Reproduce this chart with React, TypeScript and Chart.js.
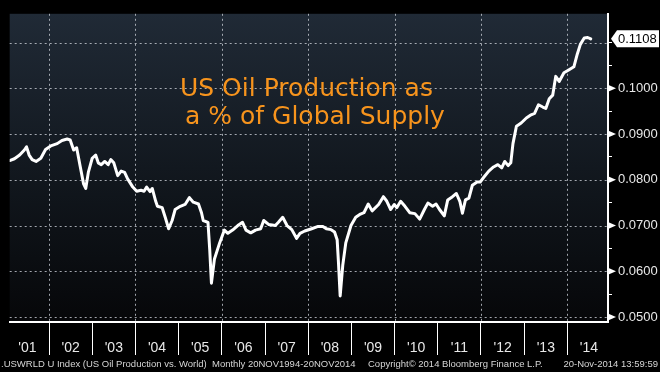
import React, { useEffect, useRef } from "react";
import { Chart, registerables } from "chart.js";

Chart.register(...registerables);

// ---- Data ----
const dates = [
  2001.09, 2001.2, 2001.32, 2001.43, 2001.48, 2001.54, 2001.61, 2001.7, 2001.81, 2001.92,
  2002.04, 2002.19, 2002.3, 2002.42, 2002.49, 2002.57, 2002.64, 2002.72, 2002.8, 2002.85,
  2002.91, 2003.0, 2003.08, 2003.14, 2003.21, 2003.29, 2003.37, 2003.43, 2003.5, 2003.59,
  2003.67, 2003.75, 2003.82, 2003.94, 2004.03, 2004.13, 2004.2, 2004.26, 2004.34, 2004.39,
  2004.47, 2004.51, 2004.62, 2004.69, 2004.77, 2004.85, 2004.92, 2005.04, 2005.15, 2005.25,
  2005.34, 2005.46, 2005.53, 2005.57, 2005.68, 2005.72, 2005.76, 2005.83, 2005.95, 2006.06,
  2006.14, 2006.25, 2006.37, 2006.48, 2006.56, 2006.67, 2006.78, 2006.9, 2006.97, 2007.09,
  2007.24, 2007.31, 2007.41, 2007.51, 2007.62, 2007.73, 2007.81, 2007.92, 2008.08, 2008.23,
  2008.34, 2008.42, 2008.53, 2008.61, 2008.67, 2008.7, 2008.74, 2008.8, 2008.87, 2008.99,
  2009.1, 2009.21, 2009.29, 2009.39, 2009.48, 2009.63, 2009.74, 2009.82, 2009.91, 2009.99,
  2010.05, 2010.14, 2010.24, 2010.35, 2010.47, 2010.58, 2010.69, 2010.77, 2010.88, 2010.96,
  2011.04, 2011.15, 2011.23, 2011.34, 2011.43, 2011.51, 2011.57, 2011.64, 2011.72, 2011.8,
  2011.91, 2011.98, 2012.06, 2012.18, 2012.29, 2012.39, 2012.48, 2012.55, 2012.63, 2012.69,
  2012.74, 2012.82, 2012.93, 2013.05, 2013.16, 2013.24, 2013.33, 2013.43, 2013.5, 2013.58,
  2013.66, 2013.73, 2013.81, 2013.92, 2014.03, 2014.15, 2014.23, 2014.3, 2014.39, 2014.47, 2014.54,
];

const values = [
  0.0842, 0.0846, 0.0854, 0.0865, 0.0872, 0.0854, 0.0844, 0.084, 0.0847, 0.0866,
  0.0874, 0.0879, 0.0886, 0.0889, 0.0887, 0.0865, 0.087, 0.083, 0.0791, 0.0781,
  0.0816, 0.0847, 0.0854, 0.0837, 0.0833, 0.084, 0.0833, 0.0844, 0.0837, 0.0809,
  0.0819, 0.0816, 0.0802, 0.0784, 0.0775, 0.0777, 0.0775, 0.0784, 0.0774, 0.0781,
  0.0753, 0.0742, 0.0739, 0.0718, 0.0693, 0.0711, 0.0735, 0.0742, 0.0746, 0.0761,
  0.0751, 0.0747, 0.0728, 0.0711, 0.0707, 0.0648, 0.0574, 0.0627, 0.0662, 0.069,
  0.0683, 0.069, 0.07, 0.0707, 0.069, 0.0684, 0.069, 0.0693, 0.0711, 0.0702,
  0.07, 0.0707, 0.0718, 0.07, 0.0691, 0.0672, 0.0683, 0.0688, 0.0693, 0.0698,
  0.0698, 0.0693, 0.0691, 0.0686, 0.0669, 0.062, 0.0546, 0.0613, 0.0662, 0.07,
  0.0718, 0.0725, 0.0728, 0.0747, 0.0732, 0.0746, 0.0763, 0.0753, 0.0735, 0.0746,
  0.0739, 0.0753, 0.0742, 0.0728, 0.0726, 0.0714, 0.0735, 0.0749, 0.0742, 0.0747,
  0.0735, 0.0721, 0.0756, 0.0763, 0.077, 0.0753, 0.0727, 0.0756, 0.076, 0.0788,
  0.0795, 0.0795, 0.0805, 0.0819, 0.0828, 0.0833, 0.0826, 0.084, 0.0831, 0.0837,
  0.0879, 0.0917, 0.0924, 0.0935, 0.0942, 0.0945, 0.0964, 0.0959, 0.0956, 0.0977,
  0.0985, 0.1026, 0.1015, 0.1034, 0.104, 0.1047, 0.1075, 0.1096, 0.111, 0.1111, 0.1108,
];

const yearBoundaries = [2002, 2003, 2004, 2005, 2006, 2007, 2008, 2009, 2010, 2011, 2012, 2013, 2014];
const gridYears = [2002, 2004, 2006, 2008, 2010, 2012, 2014];
const labelPositions = [2001.5, 2002.5, 2003.5, 2004.5, 2005.5, 2006.5, 2007.5, 2008.5, 2009.5, 2010.5, 2011.5, 2012.5, 2013.5, 2014.5];
const xTickLabels = ["'01", "'02", "'03", "'04", "'05", "'06", "'07", "'08", "'09", "'10", "'11", "'12", "'13", "'14"];
const yMajorTicks = [0.05, 0.06, 0.07, 0.08, 0.09, 0.1, 0.11];
const yMinorTicks = [0.055, 0.065, 0.075, 0.085, 0.095, 0.105];
const yTickLabels = ["0.0500", "0.0600", "0.0700", "0.0800", "0.0900", "0.1000", ""];

const titleLines = ["US Oil Production as", "a % of Global Supply"];
const footerLeft = ".USWRLD U Index (US Oil Production vs. World)";
const footerRange = "Monthly 20NOV1994-20NOV2014";
const footerCopy = "Copyright\u00A9 2014 Bloomberg Finance L.P.";
const footerStamp = "20-Nov-2014 13:59:59";

const X_MIN = 2001.09;
const X_MAX = 2014.94;
const Y_MIN = 0.04891;
const Y_MAX = 0.11628;

const GRID = "rgba(200,205,212,0.8)";
const AXIS_FONT = '"Liberation Sans", Arial, sans-serif';

const majorIndex = (v: number) => yMajorTicks.findIndex((m) => Math.abs(m - v) < 1e-6);

const bgPlugin = {
  id: "plotBg",
  beforeDraw(chart: any) {
    const { ctx, chartArea: a } = chart;
    const g = ctx.createLinearGradient(0, a.top, 0, a.bottom);
    g.addColorStop(0, "#202a36");
    g.addColorStop(0.5, "#12181f");
    g.addColorStop(1, "#060709");
    ctx.save();
    ctx.fillStyle = g;
    ctx.fillRect(a.left, a.top, a.right - a.left, a.bottom - a.top);
    ctx.restore();
  },
};

// dashed grid lines placed with the chart's own scales
const gridPlugin = {
  id: "dashedGrid",
  beforeDatasetsDraw(chart: any) {
    const { ctx, chartArea: a } = chart;
    const xs = chart.scales.x;
    const ys = chart.scales.y;
    ctx.save();
    ctx.strokeStyle = GRID;
    ctx.lineWidth = 1;
    ctx.setLineDash([2, 3]);
    ctx.beginPath();
    gridYears.forEach((yr) => {
      const x = Math.round(xs.getPixelForValue(yr)) + 0.5;
      ctx.moveTo(x, a.top);
      ctx.lineTo(x, a.bottom);
    });
    yMajorTicks.forEach((v) => {
      const y = Math.round(ys.getPixelForValue(v)) + 0.5;
      ctx.moveTo(a.left, y);
      ctx.lineTo(a.right, y);
    });
    ctx.stroke();
    ctx.restore();
  },
};

const markerPlugin = {
  id: "markers",
  afterDraw(chart: any) {
    const { ctx, chartArea: a } = chart;
    const ys = chart.scales.y;
    ctx.save();
    ctx.fillStyle = "#ffffff";
    yMajorTicks.forEach((v, i) => {
      if (!yTickLabels[i]) return;
      const y = ys.getPixelForValue(v);
      ctx.beginPath();
      ctx.moveTo(a.right, y - 3.5);
      ctx.lineTo(a.right + 8, y);
      ctx.lineTo(a.right, y + 3.5);
      ctx.closePath();
      ctx.fill();
    });
    // last value box
    const last = values[values.length - 1];
    const y = ys.getPixelForValue(last);
    const x0 = a.right + 3;
    ctx.beginPath();
    ctx.moveTo(x0, y);
    ctx.lineTo(x0 + 6, y - 8.5);
    ctx.lineTo(659, y - 8.5);
    ctx.lineTo(659, y + 8.5);
    ctx.lineTo(x0 + 6, y + 8.5);
    ctx.closePath();
    ctx.fill();
    ctx.fillStyle = "#000000";
    ctx.font = `13px ${AXIS_FONT}`;
    ctx.textBaseline = "middle";
    ctx.textAlign = "left";
    ctx.fillText(last.toFixed(4), x0 + 7, y + 0.5);
    ctx.restore();
  },
};

export default function App() {
  const ref = useRef<HTMLCanvasElement>(null);

  useEffect(() => {
    const canvas = ref.current;
    if (!canvas) return;
    const chart = new Chart(canvas, {
      type: "line",
      data: {
        datasets: [
          {
            data: dates.map((d, i) => ({ x: d, y: values[i] })),
            borderColor: "#ffffff",
            borderWidth: 3,
            pointRadius: 0,
            tension: 0,
            borderJoinStyle: "round",
            borderCapStyle: "round",
            xAxisID: "x",
            yAxisID: "y",
          },
        ],
      },
      options: {
        responsive: false,
        animation: false,
        devicePixelRatio: 1,
        layout: { padding: 0, autoPadding: false },
        plugins: { legend: { display: false }, tooltip: { enabled: false }, title: { display: false } },
        scales: {
          x: {
            type: "linear",
            position: "bottom",
            weight: 0,
            min: X_MIN,
            max: X_MAX,
            afterBuildTicks: (s: any) => {
              s.ticks = yearBoundaries.map((v) => ({ value: v }));
            },
            afterFit: (s: any) => {
              s.height = 0;
            },
            ticks: { display: false },
            grid: {
              drawOnChartArea: false,
              color: "#ffffff",
              tickColor: "#ffffff",
              tickLength: 33,
              lineWidth: 1,
            },
            border: { display: true, color: "#ffffff", width: 2 },
          },
          x2: {
            type: "linear",
            position: "bottom",
            weight: 1,
            min: X_MIN,
            max: X_MAX,
            afterBuildTicks: (s: any) => {
              s.ticks = labelPositions.map((v) => ({ value: v }));
            },
            afterFit: (s: any) => {
              s.height = 50;
            },
            grid: { display: false, drawTicks: false },
            border: { display: false },
            ticks: {
              autoSkip: false,
              maxRotation: 0,
              padding: 18,
              color: "#e8e8e8",
              font: { family: AXIS_FONT, size: 14 },
              callback: (_v: any, i: number) => xTickLabels[i],
            },
          },
          y: {
            type: "linear",
            position: "right",
            min: Y_MIN,
            max: Y_MAX,
            afterBuildTicks: (s: any) => {
              s.ticks = [...yMajorTicks, ...yMinorTicks].sort((a, b) => a - b).map((v) => ({ value: v }));
            },
            afterFit: (s: any) => {
              s.width = 52;
            },
            grid: {
              drawOnChartArea: false,
              color: "#ffffff",
              tickColor: "#ffffff",
              tickLength: 4,
              lineWidth: 1,
            },
            border: { display: true, color: "#ffffff", width: 2 },
            ticks: {
              autoSkip: false,
              padding: 6,
              color: "#e8e8e8",
              font: { family: AXIS_FONT, size: 13 },
              callback: (v: any) => {
                const i = majorIndex(Number(v));
                return i >= 0 ? yTickLabels[i] : "";
              },
            },
          },
        },
      } as any,
      plugins: [bgPlugin, gridPlugin, markerPlugin],
    });
    return () => chart.destroy();
  }, []);

  const titleStyle: React.CSSProperties = {
    position: "absolute",
    fontFamily: '"DejaVu Sans", sans-serif',
    fontSize: 25,
    lineHeight: "28px",
    color: "#f7941d",
    whiteSpace: "nowrap",
    pointerEvents: "none",
  };
  const footStyle: React.CSSProperties = {
    position: "absolute",
    top: 358,
    fontFamily: AXIS_FONT,
    fontSize: 9.5,
    lineHeight: "11px",
    color: "#d6d6d6",
    whiteSpace: "nowrap",
  };

  return (
    <div style={{ position: "fixed", left: 0, top: 0, width: 660, height: 372, background: "#000", overflow: "hidden" }}>
      <canvas ref={ref} width={660} height={372} style={{ position: "absolute", left: 0, top: 0, width: 660, height: 372 }} />
      <div style={{ ...titleStyle, left: 180, top: 74 }}>{titleLines[0]}</div>
      <div style={{ ...titleStyle, left: 185, top: 102.3 }}>{titleLines[1]}</div>
      <div style={{ ...footStyle, left: 1 }}>{footerLeft}</div>
      <div style={{ ...footStyle, left: 212 }}>{footerRange}</div>
      <div style={{ ...footStyle, left: 368 }}>{footerCopy}</div>
      <div style={{ ...footStyle, right: 2 }}>{footerStamp}</div>
    </div>
  );
}
